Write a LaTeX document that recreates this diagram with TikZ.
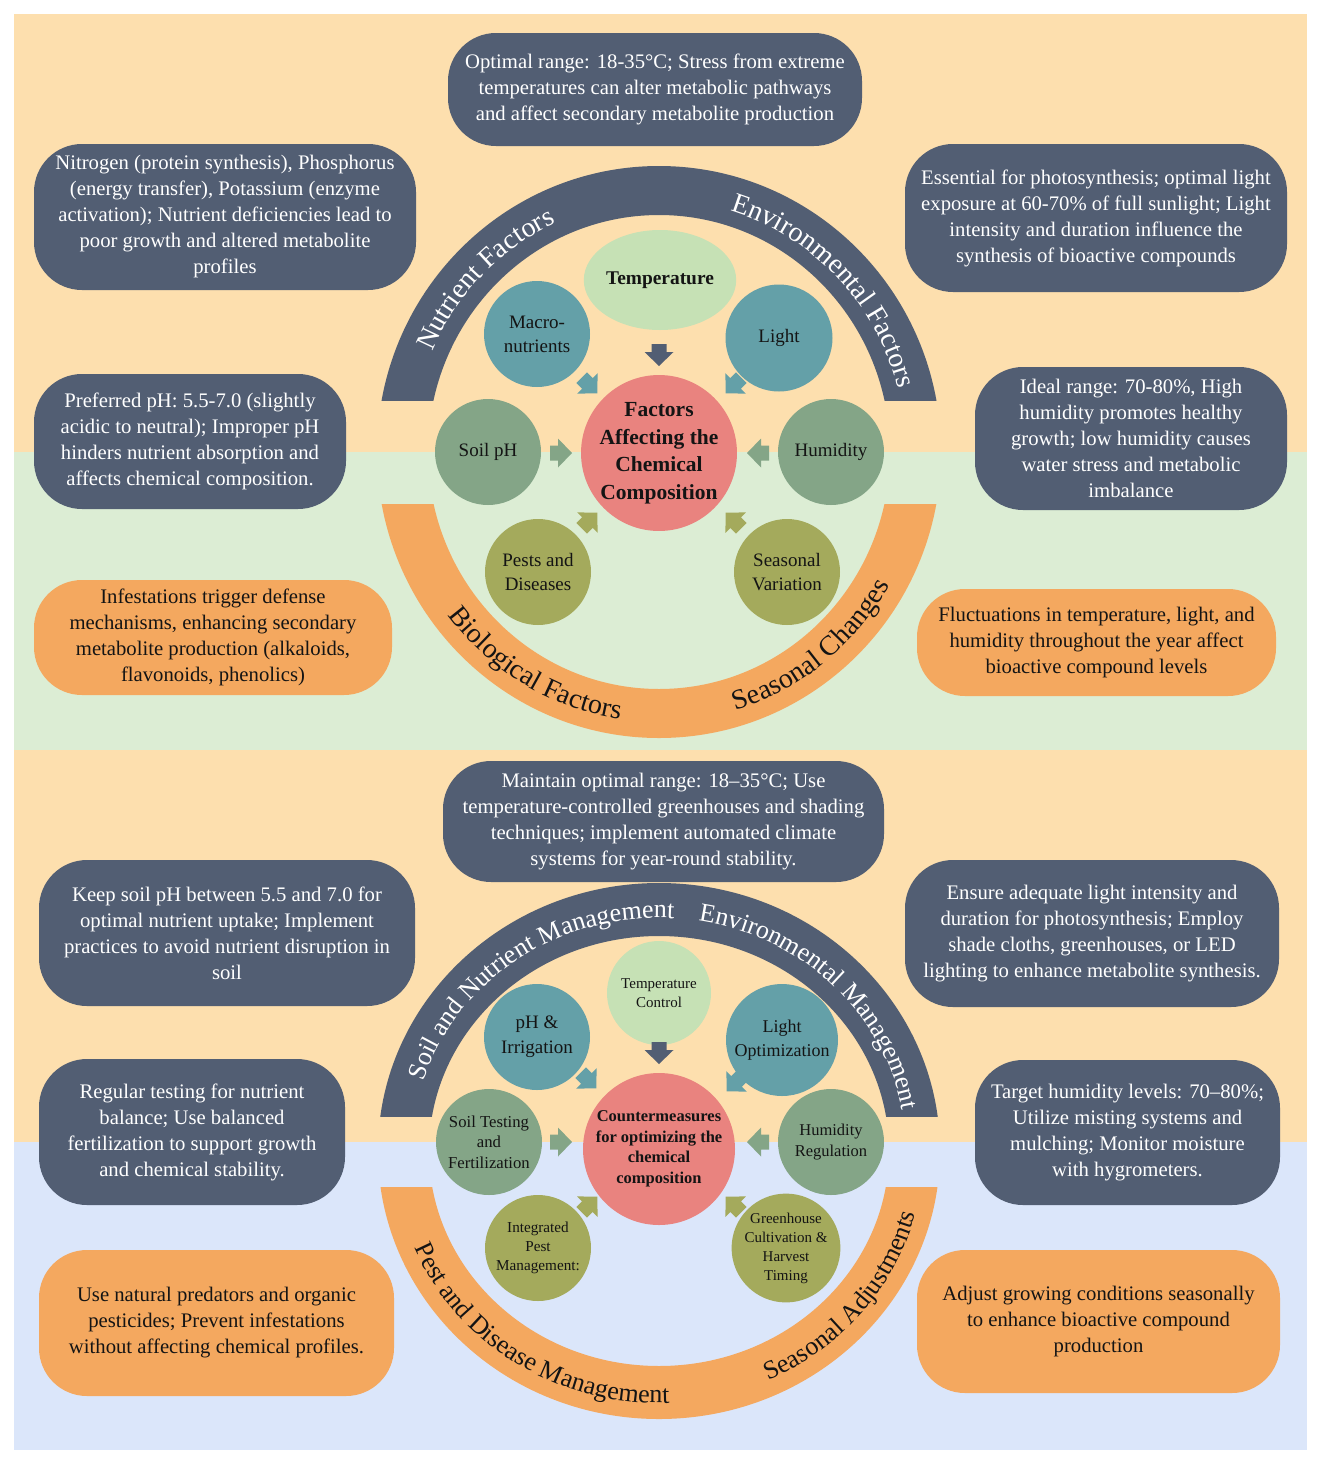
\documentclass[tikz,border=0pt]{standalone}
\usepackage{fontspec}
\setmainfont{Liberation Serif}
\usetikzlibrary{decorations.text,shapes.geometric}
\definecolor{peach}{HTML}{FDDFAE}
\definecolor{bggreen}{HTML}{DCEDD4}
\definecolor{bgblue}{HTML}{DBE6FA}
\definecolor{slate}{HTML}{525E73}
\definecolor{orng}{HTML}{F4A85F}
\definecolor{lgreen}{HTML}{C6E1B5}
\definecolor{cteal}{HTML}{64A0A8}
\definecolor{cgrey}{HTML}{84A587}
\definecolor{colive}{HTML}{A4AA5C}
\definecolor{cred}{HTML}{E9837F}
\definecolor{ink}{HTML}{141414}
\newcommand\myboxfont{\fontsize{20.7}{26}\selectfont}
\newcommand\myarcA{\fontsize{28}{30}\selectfont}
\newcommand\myarcB{\fontsize{26}{28}\selectfont}
\tikzset{
  infobox/.style={rectangle, rounded corners=48, inner sep=0, align=center, font=\myboxfont},
  darkbox/.style={infobox, fill=slate, text=white},
  orangebox/.style={infobox, fill=orng, text=ink},
  bubble/.style={circle, inner sep=0, align=center, text=ink},
  blockarrow/.pic={\fill (-11,-7.5) -- (-3,-7.5) -- (-3,-14.5) -- (11,0) -- (-3,14.5) -- (-3,7.5) -- (-11,7.5) -- cycle;}
}
\begin{document}
\begin{tikzpicture}[x=1pt,y=-1pt]
\useasboundingbox (0,0) rectangle (1321,1465);
\fill[white] (0,0) rectangle (1321,1465);
% backgrounds
\fill[peach] (14,14) rectangle (1307,452);
\fill[bggreen] (14,452) rectangle (1307,750);
\fill[peach] (14,750) rectangle (1307,1142);
\fill[bgblue] (14,1142) rectangle (1307,1450);

% ===== section 1 bands =====
\begin{scope}
\clip (0,0) rectangle (1321,400);
\fill[slate, even odd rule] (659,452) ellipse [x radius=282, y radius=286] (659,452) ellipse [x radius=231, y radius=237];
\end{scope}
\begin{scope}
\clip (0,504) rectangle (1321,760);
\fill[orng, even odd rule] (659,452) ellipse [x radius=282, y radius=286] (659,452) ellipse [x radius=231, y radius=237];
\end{scope}
\path[decorate, decoration={text along path, text align=center, text={|\myarcA\color{white}|Nutrient Factors}}]
  ([shift={(659,452)}]-175:247 and 252) arc[start angle=-175, end angle=-96, x radius=247, y radius=252];
\path[decorate, decoration={text along path, text align=center, text={|\myarcA\color{white}|Environmental Factors}}]
  ([shift={(659,452)}]-86:247 and 252) arc[start angle=-86, end angle=-2, x radius=247, y radius=252];
\path[decorate, decoration={text along path, text align=center, text={|\myarcA\color{ink}|Biological Factors}}]
  ([shift={(659,452)}]-200:265 and 270) arc[start angle=-200, end angle=-279, x radius=265, y radius=270];
\path[decorate, decoration={text along path, text align=center, text={|\myarcA\color{ink}|Seasonal Changes}}]
  ([shift={(659,452)}]-269:265 and 270) arc[start angle=-269, end angle=-348, x radius=265, y radius=270];

% ===== section 2 bands =====
\begin{scope}
\clip (0,760) rectangle (1321,1116);
\fill[slate, even odd rule] (659,1151) ellipse [x radius=281, y radius=268] (659,1151) ellipse [x radius=230, y radius=215];
\end{scope}
\begin{scope}
\clip (0,1187) rectangle (1321,1465);
\fill[orng, even odd rule] (659,1151) ellipse [x radius=281, y radius=268] (659,1151) ellipse [x radius=230, y radius=215];
\end{scope}
\path[decorate, decoration={text along path, text align=center, text={|\myarcB\color{white}|Soil and Nutrient Management}}]
  ([shift={(659,1151)}]-180:247 and 233) arc[start angle=-180, end angle=-70, x radius=247, y radius=233];
\path[decorate, decoration={text along path, text align=center, text={|\myarcB\color{white}|Environmental Management}}]
  ([shift={(659,1151)}]-95:247 and 233) arc[start angle=-95, end angle=5, x radius=247, y radius=233];
\path[decorate, decoration={text along path, text align=center, text={|\myarcB\color{ink}|Pest and Disease Management}}]
  ([shift={(659,1151)}]-182:265 and 252) arc[start angle=-182, end angle=-292, x radius=265, y radius=252];
\path[decorate, decoration={text along path, text align=center, text={|\myarcB\color{ink}|Seasonal Adjustments}}]
  ([shift={(659,1151)}]-275:265 and 252) arc[start angle=-275, end angle=-366, x radius=265, y radius=252];

% ===== section 1 boxes =====
\node[darkbox, minimum width=414, minimum height=113] (b1) at (655,89.5)
  {Optimal range: 18-35°C; Stress from extreme\\temperatures can alter metabolic pathways\\and affect secondary metabolite production};
\node[darkbox, minimum width=382, minimum height=146] (b2) at (225,217)
  {Nitrogen (protein synthesis), Phosphorus\\(energy transfer), Potassium (enzyme\\activation); Nutrient deficiencies lead to\\poor growth and altered metabolite\\profiles};
\node[darkbox, minimum width=382, minimum height=148] (b3) at (1096,218)
  {Essential for photosynthesis; optimal light\\exposure at 60-70\% of full sunlight; Light\\intensity and duration influence the\\synthesis of bioactive compounds};
\node[darkbox, minimum width=312, minimum height=135] (b4) at (190,441.5)
  {Preferred pH: 5.5-7.0 (slightly\\acidic to neutral); Improper pH\\hinders nutrient absorption and\\affects chemical composition.};
\node[darkbox, minimum width=312, minimum height=143] (b5) at (1131,438.5)
  {Ideal range: 70-80\%, High\\humidity promotes healthy\\growth; low humidity causes\\water stress and metabolic\\imbalance};
\node[orangebox, minimum width=358, minimum height=115] (b6) at (213,637.5)
  {Infestations trigger defense\\mechanisms, enhancing secondary\\metabolite production (alkaloids,\\flavonoids, phenolics)};
\node[orangebox, minimum width=359, minimum height=107] (b7) at (1096.5,642.5)
  {Fluctuations in temperature, light, and\\humidity throughout the year affect\\bioactive compound levels};

% ===== section 2 boxes =====
\node[darkbox, minimum width=441, minimum height=121] (b8) at (663.5,821.5)
  {Maintain optimal range: 18–35°C; Use\\temperature-controlled greenhouses and shading\\techniques; implement automated climate\\systems for year-round stability.};
\node[darkbox, minimum width=376, minimum height=146] (b9) at (227,933)
  {Keep soil pH between 5.5 and 7.0 for\\optimal nutrient uptake; Implement\\practices to avoid nutrient disruption in\\soil};
\node[darkbox, minimum width=374, minimum height=147] (b10) at (1092,933.5)
  {Ensure adequate light intensity and\\duration for photosynthesis; Employ\\shade cloths, greenhouses, or LED\\lighting to enhance metabolite synthesis.};
\node[darkbox, minimum width=306, minimum height=146] (b11) at (192,1132)
  {Regular testing for nutrient\\balance; Use balanced\\fertilization to support growth\\and chemical stability.};
\node[darkbox, minimum width=305, minimum height=145] (b12) at (1127.5,1132.5)
  {Target humidity levels: 70–80\%;\\Utilize misting systems and\\mulching; Monitor moisture\\with hygrometers.};
\node[orangebox, minimum width=355, minimum height=146] (b13) at (216.5,1323)
  {Use natural predators and organic\\pesticides; Prevent infestations\\without affecting chemical profiles.};
\node[orangebox, minimum width=363, minimum height=143] (b14) at (1098.5,1321.5)
  {Adjust growing conditions seasonally\\to enhance bioactive compound\\production};

% ===== section 1 circles =====
\node[ellipse, inner sep=0, minimum width=126, minimum height=100, fill=lgreen, text=ink, font=\fontsize{19.4}{24}\selectfont\bfseries] (temp) at (660,280) {Temperature};
\node[bubble, minimum size=106, fill=cteal, font=\fontsize{19}{24}\selectfont] (macro) at (537,334) {Macro-\\nutrients};
\node[bubble, minimum size=107, fill=cteal, font=\fontsize{19}{24}\selectfont] (light) at (779,338) {Light};
\node[bubble, minimum size=106, fill=cgrey, font=\fontsize{19}{24}\selectfont] (soilph) at (488,452) {Soil pH};
\node[bubble, minimum size=106, fill=cgrey, font=\fontsize{19}{24}\selectfont] (humid) at (831,452) {Humidity};
\node[bubble, minimum size=106, fill=colive, font=\fontsize{19}{24}\selectfont] (pests) at (538,572) {Pests and\\Diseases};
\node[bubble, minimum size=106, fill=colive, font=\fontsize{19}{24}\selectfont] (season) at (787,572) {Seasonal\\Variation};
\node[bubble, minimum size=152, fill=cred, font=\fontsize{21.5}{27.5}\selectfont\bfseries] (core1) at (659,453) {Factors\\Affecting the\\Chemical\\Composition};

% section 1 block arrows
\pic[rotate=-90, color=slate] at (659,355) {blockarrow};
\pic[rotate=-45, color=cteal] at (589.5,385.5) {blockarrow};
\pic[rotate=-135, color=cteal] at (733.5,385.5) {blockarrow};
\pic[rotate=0, color=cgrey] at (561,453) {blockarrow};
\pic[rotate=180, color=cgrey] at (758,453) {blockarrow};
\pic[rotate=45, color=colive] at (589.5,520.5) {blockarrow};
\pic[rotate=135, color=colive] at (733.5,520.5) {blockarrow};

% ===== section 2 circles =====
\node[bubble, minimum size=104, fill=lgreen, font=\fontsize{15}{19.6}\selectfont] (tempc) at (659,993) {Temperature\\Control};
\node[bubble, minimum size=106, fill=cteal, font=\fontsize{19}{25}\selectfont] (phirr) at (537,1037) {pH \&\\Irrigation};
\node[bubble, minimum size=112, fill=cteal, font=\fontsize{18}{24}\selectfont] (lightopt) at (782,1040) {Light\\Optimization};
\node[bubble, minimum size=106, fill=cgrey, font=\fontsize{16.7}{20.5}\selectfont] (soiltest) at (489,1142) {Soil Testing\\and\\Fertilization};
\node[bubble, minimum size=106, fill=cgrey, font=\fontsize{16.5}{20.5}\selectfont] (humreg) at (831,1142) {Humidity\\Regulation};
\node[bubble, minimum size=106, fill=colive, font=\fontsize{15.2}{19}\selectfont] (ipm) at (538,1248) {Integrated\\Pest\\Management:};
\node[bubble, minimum size=106, fill=colive, font=\fontsize{15}{19}\selectfont] (ghouse) at (786,1248) {Greenhouse\\Cultivation \&\\Harvest\\Timing};
\node[bubble, minimum size=152, fill=cred, font=\fontsize{16.5}{20.5}\selectfont\bfseries] (core2) at (659,1149) {Countermeasures\\for optimizing the\\chemical\\composition};

% section 2 block arrows
\pic[rotate=-90, color=slate] at (659,1053) {blockarrow};
\pic[rotate=-45, color=cteal] at (588.5,1080.5) {blockarrow};
\pic[rotate=-135, color=cteal] at (734.5,1083.5) {blockarrow};
\pic[rotate=0, color=cgrey] at (561,1142) {blockarrow};
\pic[rotate=180, color=cgrey] at (758,1142) {blockarrow};
\pic[rotate=45, color=colive] at (589.5,1204.5) {blockarrow};
\pic[rotate=135, color=colive] at (733.5,1204.5) {blockarrow};
\end{tikzpicture}
\end{document}
